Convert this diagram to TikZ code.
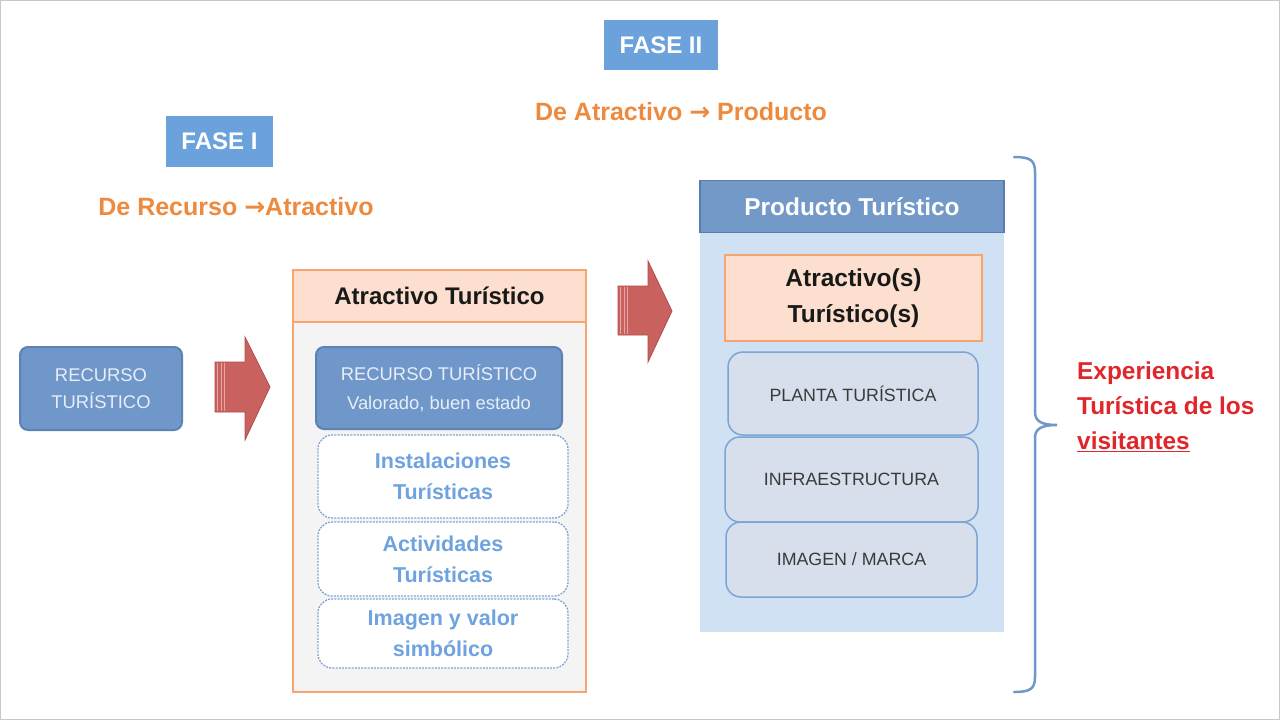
\documentclass[tikz,border=0pt]{standalone}
\usepackage{fontspec}
\setmainfont{Liberation Sans}
\newfontfamily\arrowfont{DejaVu Sans}
\definecolor{faseblue}{HTML}{6CA2DC}
\definecolor{orangetxt}{HTML}{EE8A3E}
\definecolor{recfill}{HTML}{6F97C9}
\definecolor{recborder}{HTML}{5F82B4}
\definecolor{rectext}{HTML}{E8EEF7}
\definecolor{arrowred}{HTML}{C9625F}
\definecolor{arrowdark}{HTML}{B04C4C}
\definecolor{orangeB}{HTML}{F6A56E}
\definecolor{peach}{HTML}{FCDFCE}
\definecolor{graybg}{HTML}{F4F4F4}
\definecolor{dashblue}{HTML}{7EA5D5}
\definecolor{txtblue}{HTML}{6FA3DF}
\definecolor{prodbg}{HTML}{CFE1F3}
\definecolor{prodhead}{HTML}{7399C9}
\definecolor{prodborder}{HTML}{5A7DB0}
\definecolor{grayfill}{HTML}{D6DFEB}
\definecolor{grayborder}{HTML}{7CA5D5}
\definecolor{graytxt}{HTML}{3A3A3A}
\definecolor{redtxt}{HTML}{E0262B}
\definecolor{framegray}{HTML}{C8C8C8}
\newcommand\myfs[2]{\fontsize{#1}{#2}\selectfont}
\newcommand\bigarrow{{\arrowfont\bfseries →}}
\begin{document}
\begin{tikzpicture}[x=1pt,y=-1pt,
  fasebox/.style={fill=faseblue, text=white, font=\myfs{24}{28}\bfseries, minimum width=#1, minimum height=50, inner sep=0},
  phasetxt/.style={text=orangetxt, font=\myfs{25}{30}\bfseries, inner sep=0},
  recbox/.style={draw=recborder, line width=2, fill=recfill, rounded corners=8, text=rectext, align=center, inner sep=0},
  dashbox/.style={draw=dashblue, dashed, dash pattern=on 2pt off 1.2pt, line width=1.3, fill=white, rounded corners=14, text=txtblue, font=\myfs{21.5}{31}\bfseries, align=center, minimum width=250, inner sep=0},
  graybox/.style={draw=grayborder, line width=1.5, fill=grayfill, rounded corners=15, text=graytxt, font=\myfs{17.8}{21}, align=center, inner sep=0},
  blockarrow/.style={fill=arrowred, draw=arrowdark, line width=0.8},
  brace/.style={draw=recfill, line width=2.5, line cap=round}
]
\useasboundingbox (0,0) rectangle (1280,720);
\fill[white] (0,0) rectangle (1280,720);
\draw[framegray, line width=1] (0.5,0.5) rectangle (1279.5,719.5);

% phases
\node[fasebox=114] (f2) at (661,45) {FASE II};
\node[phasetxt] (t2) at (681,112) {De Atractivo \bigarrow{} Producto};
\node[fasebox=107, minimum height=51] (f1) at (219.5,141.5) {FASE I};
\node[phasetxt] (t1) at (236,207) {De Recurso \bigarrow{}Atractivo};

% left resource
\node[recbox, minimum width=162, minimum height=83, font=\myfs{18.4}{27}] (rec) at (101,388.5) {RECURSO\\TURÍSTICO};

% arrow 1
\path[blockarrow] (215,362) -- (245,362) -- (245,337) -- (270,387) -- (245,440) -- (245,412) -- (215,412) -- cycle;
\foreach \xx in {217.5,221,224.5} \draw[white, opacity=0.45, line width=1] (\xx,363) -- (\xx,411);

% atractivo box
\node[draw=orangeB, fill=graybg, line width=1.5, minimum width=293, minimum height=422, inner sep=0] (atbox) at (439.5,481) {};
\node[draw=orangeB, fill=peach, line width=1.5, minimum width=293, minimum height=52, anchor=north, inner sep=0, font=\myfs{24}{28}\bfseries, text=black!90] (athead) at (atbox.north) {Atractivo Turístico};
\node[recbox, minimum width=246, minimum height=82, font=\myfs{18.4}{29}] (rec2) at (439,388) {RECURSO TURÍSTICO\\Valorado, buen estado};
\node[dashbox, minimum height=83] (inst) at (443,476.5) {Instalaciones\\Turísticas};
\node[dashbox, minimum height=74] (act) at (443,559) {Actividades\\Turísticas};
\node[dashbox, minimum height=69] (img) at (443,633.5) {Imagen y valor\\simbólico};

% arrow 2
\path[blockarrow] (618,286) -- (648,286) -- (648,261) -- (672,311) -- (648,362) -- (648,335) -- (618,335) -- cycle;
\foreach \xx in {620.5,624,627.5} \draw[white, opacity=0.45, line width=1] (\xx,287) -- (\xx,334);

% producto box
\node[fill=prodbg, minimum width=304, minimum height=452, inner sep=0] (prod) at (852,406) {};
\node[fill=prodhead, draw=prodborder, line width=1.5, minimum width=304, minimum height=52, anchor=north, inner sep=0, font=\myfs{24.4}{28}\bfseries, text=white] (prodhead) at (prod.north) {Producto Turístico};
\node[draw=orangeB, fill=peach, line width=1.5, minimum width=257, minimum height=86, inner sep=0, align=center, font=\myfs{24.5}{36}\bfseries, text=black!90] (atr) at (853.5,298) {Atractivo(s)\\Turístico(s)};
\node[graybox, minimum width=250, minimum height=83] (planta) at (853,393.5) {PLANTA TURÍSTICA};
\node[graybox, minimum width=253, minimum height=85] (infra) at (851.5,479.5) {INFRAESTRUCTURA};
\node[graybox, minimum width=251, minimum height=75] (imarca) at (851.5,559.5) {IMAGEN / MARCA};

% brace
\coordinate (btop) at (1014,157);
\coordinate (btip) at (1057,425);
\coordinate (bbot) at (1014,692);
\draw[brace] (btop) .. controls (1030,157) and (1035,160) .. (1035,172) -- (1035,412)
  .. controls (1035,421) and (1041,425) .. (btip)
  .. controls (1041,425) and (1035,429) .. (1035,438) -- (1035,677)
  .. controls (1035,689) and (1030,692) .. (bbot);

\node[anchor=west, align=left, text=redtxt, font=\myfs{24.4}{35}\bfseries, inner sep=0] (exp) at (1077,407) {Experiencia\\Turística de los\\\underline{visitantes}};
\end{tikzpicture}
\end{document}
